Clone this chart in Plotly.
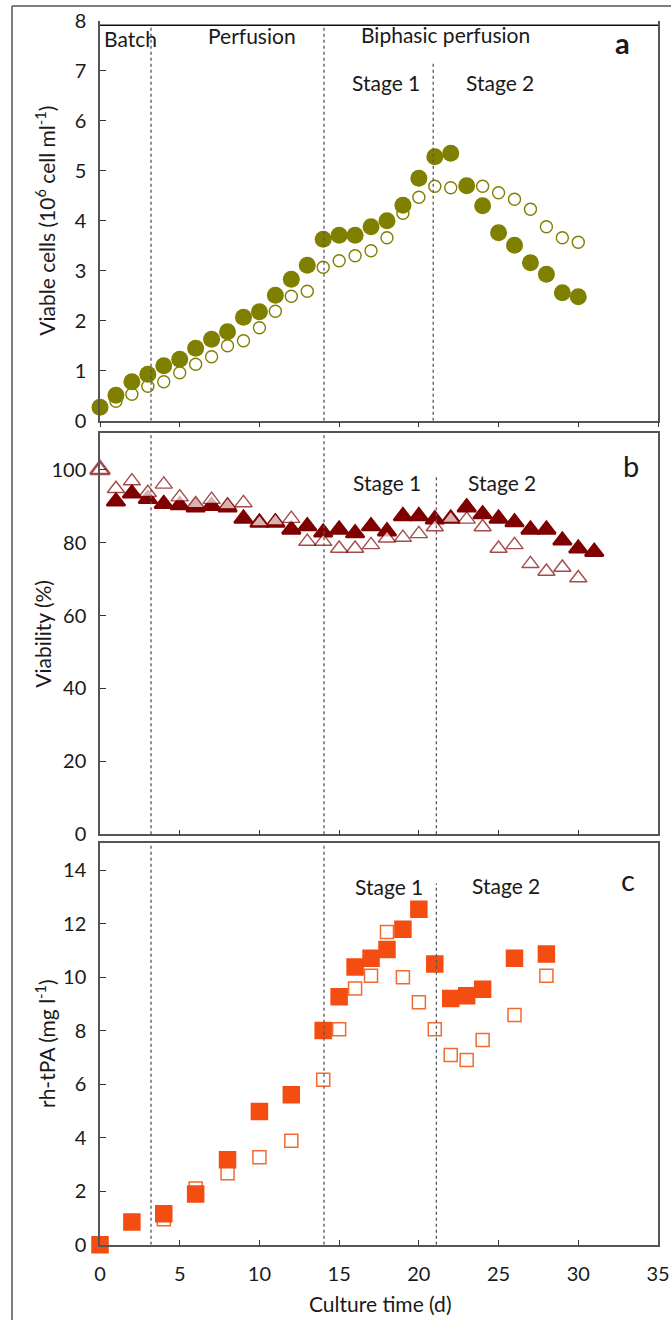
import plotly.graph_objects as go

# ---------------- data ----------------
days_a_filled = list(range(0, 31))
cells_filled = [0.27, 0.51, 0.78, 0.93, 1.10, 1.23, 1.45, 1.63, 1.78, 2.07, 2.18, 2.51, 2.83, 3.11,
                3.63, 3.71, 3.71, 3.88, 4.00, 4.31, 4.85, 5.28, 5.35, 4.70, 4.30, 3.76, 3.51, 3.16,
                2.93, 2.56, 2.48]
days_a_open = list(range(1, 31))
cells_open = [0.39, 0.53, 0.69, 0.78, 0.96, 1.13, 1.28, 1.50, 1.60, 1.86, 2.19, 2.49, 2.59, 3.07,
              3.20, 3.30, 3.40, 3.66, 4.15, 4.47, 4.69, 4.66, 4.69, 4.69, 4.56, 4.43, 4.23, 3.88,
              3.66, 3.57]

days_b_filled = list(range(1, 32))
viab_filled = [91.3, 93.5, 92.0, 90.6, 90.3, 89.7, 90.1, 89.7, 86.6, 85.5, 85.5, 83.6, 84.5, 82.8,
               83.6, 82.6, 84.5, 83.1, 87.3, 87.3, 86.4, 86.6, 89.7, 87.8, 86.6, 85.6, 83.6, 83.6,
               80.6, 78.4, 77.5]
days_b_open = list(range(0, 31))
viab_open = [100.0, 94.8, 96.9, 93.7, 96.0, 92.5, 90.6, 91.8, 90.3, 90.9, 85.6, 85.9, 86.6, 80.3,
             80.3, 78.4, 78.4, 79.4, 81.2, 81.4, 82.4, 84.3, 86.6, 86.4, 84.3, 78.4, 79.4, 74.2,
             72.1, 73.2, 70.3]

days_c_filled = [0, 2, 4, 6, 8, 10, 12, 14, 15, 16, 17, 18, 19, 20, 21, 22, 23, 24, 26, 28]
tpa_filled = [0.0, 0.85, 1.16, 1.89, 3.17, 4.98, 5.6, 8.0, 9.27, 10.38, 10.7, 11.03, 11.79, 12.54,
              10.49, 9.2, 9.3, 9.55, 10.7, 10.86]
days_c_open = [4, 6, 8, 10, 12, 14, 15, 16, 17, 18, 19, 20, 21, 22, 23, 24, 26, 28]
tpa_open = [0.95, 2.1, 2.67, 3.27, 3.88, 6.16, 8.05, 9.57, 10.05, 11.69, 9.99, 9.06, 8.05, 7.09,
            6.9, 7.65, 8.58, 10.05]

x_ticks = [0, 5, 10, 15, 20, 25, 30, 35]
ya_ticks = [0, 1, 2, 3, 4, 5, 6, 7, 8]
yb_ticks = [0, 20, 40, 60, 80, 100]
yc_ticks = [0, 2, 4, 6, 8, 10, 12, 14]

# phase boundaries (days)
phase_a = [3.2, 14.05, 20.9]
phase_bc = [3.2, 14.05, 21.1]

# ---------------- style ----------------
W, H = 671, 1320
FONT = "Lato"
TXT = "#1a1a1a"
OLIVE = "#808000"
DRED = "#7f0000"
ORANGE = "#F44D12"
ORANGE_L = "#F26A2E"
AXC = "#555555"


def px_x(p):
    return p / W


def px_y(p):
    return 1 - p / H


# plot areas in pixels (top, bottom)
X0, X1 = 100, 658
A_T, A_B = 20.7, 420.7
B_T, B_B = 433.3, 834.3
C_T, C_B = 843.3, 1244.7

fig = go.Figure()

# panel a
fig.add_trace(go.Scatter(x=days_a_open, y=cells_open, mode="markers", xaxis="x", yaxis="y",
                         marker=dict(symbol="circle", size=12, color="white",
                                     line=dict(color=OLIVE, width=1.4)),
                         cliponaxis=False, showlegend=False))
fig.add_trace(go.Scatter(x=days_a_filled, y=cells_filled, mode="markers", xaxis="x", yaxis="y",
                         marker=dict(symbol="circle", size=17, color=OLIVE,
                                     line=dict(color=OLIVE, width=0)),
                         cliponaxis=False, showlegend=False))
# panel b
fig.add_trace(go.Scatter(x=days_b_filled, y=viab_filled, mode="markers", xaxis="x2", yaxis="y2",
                         marker=dict(symbol="triangle-up", size=16, color=DRED,
                                     line=dict(color=DRED, width=2.2)),
                         cliponaxis=False, showlegend=False))
open_b_lw = [2.6] + [1.4] * (len(days_b_open) - 1)
open_b_sz = [17] + [15] * (len(days_b_open) - 1)
fig.add_trace(go.Scatter(x=days_b_open, y=viab_open, mode="markers", xaxis="x2", yaxis="y2",
                         marker=dict(symbol="triangle-up", size=open_b_sz, color="white",
                                     line=dict(color=DRED, width=open_b_lw)),
                         cliponaxis=False, showlegend=False))
# panel c
fig.add_trace(go.Scatter(x=days_c_open, y=tpa_open, mode="markers", xaxis="x3", yaxis="y3",
                         marker=dict(symbol="square", size=13, color="white",
                                     line=dict(color=ORANGE_L, width=1.5)),
                         cliponaxis=False, showlegend=False))
fig.add_trace(go.Scatter(x=days_c_filled, y=tpa_filled, mode="markers", xaxis="x3", yaxis="y3",
                         marker=dict(symbol="square", size=15, color=ORANGE,
                                     line=dict(color=ORANGE, width=2.5)),
                         cliponaxis=False, showlegend=False))

tickfont = dict(family=FONT, size=20, color=TXT)
xdom = [px_x(X0), px_x(X1)]


def xaxis(anchor, show_labels, ticks, mirror):
    return dict(domain=xdom, anchor=anchor, range=[0, 35], tickvals=x_ticks,
                showticklabels=show_labels, ticks=ticks, ticklen=5, tickwidth=1.2,
                tickcolor="#333", showline=True, linecolor=AXC, linewidth=1.5, mirror=mirror,
                showgrid=False, zeroline=False, tickfont=tickfont, ticklabelstandoff=11,
                automargin=False)


def yaxis(anchor, dom, rng, tv):
    return dict(domain=dom, anchor=anchor, range=rng, tickvals=tv, ticks="inside",
                ticklen=6, tickwidth=1.2, tickcolor="#333", showline=True, linecolor=AXC,
                linewidth=1.5, mirror=True, showgrid=False, zeroline=False,
                tickfont=tickfont, ticklabelstandoff=8, automargin=False)


fig.update_layout(
    width=W, height=H, margin=dict(l=0, r=0, t=0, b=0, pad=0, autoexpand=False),
    paper_bgcolor="white", plot_bgcolor="white",
    font=dict(family=FONT, color=TXT),
    xaxis=xaxis("y", False, "outside", False),
    xaxis2=xaxis("y2", False, "inside", True),
    xaxis3=xaxis("y3", True, "inside", True),
    yaxis=yaxis("x", [px_y(A_B), px_y(A_T)], [0, 8], ya_ticks),
    yaxis2=yaxis("x2", [px_y(B_B), px_y(B_T)], [0, 110], yb_ticks),
    yaxis3=yaxis("x3", [px_y(C_B), px_y(C_T)], [0, 15], yc_ticks),
)

shapes = []
# top frame of panel a (slightly below the 8 tick)
shapes.append(dict(type="line", xref="x", yref="y", x0=0, x1=35, y0=7.91, y1=7.91,
                   line=dict(color="#111", width=1.5)))
# dotted phase lines
dot = dict(color="#555", width=1.3, dash="dot")
shapes += [dict(type="line", xref="x", yref="y", x0=phase_a[0], x1=phase_a[0], y0=0, y1=7.91, line=dot),
           dict(type="line", xref="x", yref="y", x0=phase_a[1], x1=phase_a[1], y0=0, y1=7.91, line=dot),
           dict(type="line", xref="x", yref="y", x0=phase_a[2], x1=phase_a[2], y0=0, y1=7.2, line=dot)]
shapes += [dict(type="line", xref="x2", yref="y2", x0=phase_bc[0], x1=phase_bc[0], y0=0, y1=110, line=dot),
           dict(type="line", xref="x2", yref="y2", x0=phase_bc[1], x1=phase_bc[1], y0=0, y1=110, line=dot),
           dict(type="line", xref="x2", yref="y2", x0=phase_bc[2], x1=phase_bc[2], y0=0, y1=98, line=dot)]
shapes += [dict(type="line", xref="x3", yref="y3", x0=phase_bc[0], x1=phase_bc[0], y0=0, y1=15, line=dot),
           dict(type="line", xref="x3", yref="y3", x0=phase_bc[1], x1=phase_bc[1], y0=0, y1=15, line=dot),
           dict(type="line", xref="x3", yref="y3", x0=phase_bc[2], x1=phase_bc[2], y0=0, y1=13.5, line=dot)]
# outer figure border (top and left)
shapes += [dict(type="line", xref="paper", yref="paper", x0=px_x(12), x1=1, y0=px_y(6), y1=px_y(6),
                line=dict(color=AXC, width=1.5)),
           dict(type="line", xref="paper", yref="paper", x0=px_x(12), x1=px_x(12), y0=0, y1=px_y(6),
                line=dict(color=AXC, width=1.5))]
fig.update_layout(shapes=shapes)


def ann(text, x, y, size=21, bold=False, angle=0, xanchor="center"):
    return dict(text=f"<b>{text}</b>" if bold else text, x=px_x(x), y=px_y(y),
                xref="paper", yref="paper", showarrow=False, textangle=angle,
                xanchor=xanchor, yanchor="middle",
                font=dict(family=FONT, size=size, color=TXT))


annotations = [
    ann("Batch", 101.5, 38, xanchor="left"),
    ann("Perfusion", 251.7, 36),
    ann("Biphasic perfusion", 445, 35),
    ann("Stage 1", 385.5, 83),
    ann("Stage 2", 500.3, 83),
    ann("a", 622, 42, size=29, bold=True),
    ann("Stage 1", 386.7, 482.5),
    ann("Stage 2", 501.7, 482.5),
    ann("b", 631.3, 465, size=29),
    ann("Stage 1", 389.3, 886),
    ann("Stage 2", 506.3, 885),
    ann("c", 628.3, 879, size=29),
    ann("Viable cells (10<sup>6</sup> cell ml<sup>-1</sup>)", 45, 220.7, angle=-90),
    ann("Viability (%)", 43, 633.8, angle=-90),
    ann("rh-tPA (mg l<sup>-1</sup>)", 45, 1044, angle=-90),
    ann("Culture time (d)", 380, 1303),
]
fig.update_layout(annotations=annotations)

fig.write_html("out.html", config={"displayModeBar": False},
               post_script="document.body.style.margin='0';document.body.style.overflow='hidden';")
